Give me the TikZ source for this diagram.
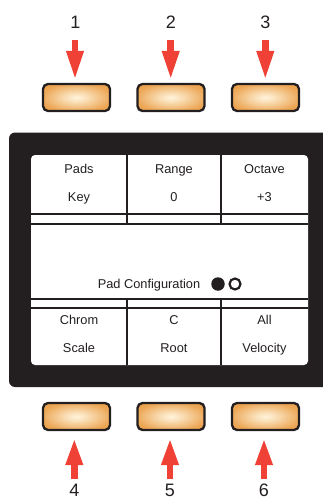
\documentclass[tikz,border=0pt]{standalone}
\usepackage{fontspec}
\setmainfont{Liberation Sans}
\usetikzlibrary{arrows.meta}
\definecolor{ink}{HTML}{231F20}
\definecolor{btnout}{HTML}{E58A24}
\definecolor{btnin}{HTML}{FFF4DC}
\definecolor{arrowred}{HTML}{EF4136}
\pgfdeclareradialshading{btnshade}{\pgfpoint{0bp}{0bp}}{color(0bp)=(btnin); color(8bp)=(btnin!80!btnout); color(26bp)=(btnin!28!btnout); color(46bp)=(btnout); color(75bp)=(btnout!90!black)}
\begin{document}
\begin{tikzpicture}[x=1pt,y=-1pt,
  button/.style={draw=ink, line width=2.3pt, rounded corners=5pt, minimum width=67pt, minimum height=27pt, inner sep=0pt, shading=btnshade, shade},
  fatup/.style={draw=arrowred, line width=6.5pt, -{Triangle[length=27pt,width=16pt]}},
  fatdown/.style={draw=arrowred, line width=6.5pt, -{Triangle[length=29pt,width=16pt]}},
  digit/.style={anchor=base, inner sep=0pt, font=\fontsize{18}{20}\selectfont, text=ink},
  cell/.style={anchor=base, inner sep=0pt, font=\fontsize{12.8}{14}\selectfont, text=ink},
  sep/.style={draw=ink, line width=2.5pt}
]
\useasboundingbox (0,0) rectangle (323,499);
\begin{scope}
\clip (0,0) rectangle (323,499);
% panel
\fill[ink, rounded corners=6pt] (9,132.5) rectangle (345,387);
% display
\fill[white, rounded corners=4pt] (31,155) rectangle (308,365);
\draw[sep] (31,214) -- (308,214);
\draw[sep] (31,224) -- (308,224);
\draw[sep] (31,299) -- (308,299);
\draw[sep] (31,308) -- (308,308);
\draw[sep] (127,155) -- (127,224);
\draw[sep] (221,155) -- (221,224);
\draw[sep] (127,299) -- (127,365);
\draw[sep] (221,299) -- (221,365);
% cell texts
\node[cell] (pads) at (79,173.3) {Pads};
\node[cell] (key) at (79,201.7) {Key};
\node[cell] (range) at (174,173.3) {Range};
\node[cell] (zero) at (174,201.7) {0};
\node[cell] (octave) at (264.5,173.3) {Octave};
\node[cell] (plus) at (264.5,201.7) {+3};
\node[cell] (chrom) at (79,324.7) {Chrom};
\node[cell] (scale) at (79,352) {Scale};
\node[cell] (cc) at (174,324.7) {C};
\node[cell] (root) at (174,352) {Root};
\node[cell] (all) at (264.5,324.7) {All};
\node[cell] (vel) at (264.5,352) {Velocity};
\node[cell] (padconf) at (149,288.7) {Pad Configuration};
\node[circle, fill=ink, inner sep=0pt, minimum size=13.5pt] (dot1) at (218,284) {};
\node[circle, draw=ink, line width=2.2pt, fill=white, inner sep=0pt, minimum size=11pt] (dot2) at (235,284) {};
% buttons
\node[button] (b1) at (76.5,97.5) {};
\node[button] (b2) at (171,97.5) {};
\node[button] (b3) at (265.5,97.5) {};
\node[button] (b4) at (76.5,416.5) {};
\node[button] (b5) at (171,416.5) {};
\node[button] (b6) at (265.5,416.5) {};
% labels
\node[digit] (l1) at (75.5,28) {1};
\node[digit] (l2) at (171,28) {2};
\node[digit] (l3) at (265.5,28) {3};
\node[digit] (l4) at (74.5,496) {4};
\node[digit] (l5) at (170,496) {5};
\node[digit] (l6) at (264,496) {6};
% arrows
\coordinate (s1) at (75,40);
\coordinate (s2) at (170.7,40);
\coordinate (s3) at (265.3,40);
\coordinate (s4) at (74.3,479);
\coordinate (s5) at (170,479);
\coordinate (s6) at (264,479);
\draw[fatdown, shorten >=3pt] (s1) -- (s1 |- b1.north);
\draw[fatdown, shorten >=3pt] (s2) -- (s2 |- b2.north);
\draw[fatdown, shorten >=3pt] (s3) -- (s3 |- b3.north);
\draw[fatup, shorten >=7pt] (s4) -- (s4 |- b4.south);
\draw[fatup, shorten >=7pt] (s5) -- (s5 |- b5.south);
\draw[fatup, shorten >=7pt] (s6) -- (s6 |- b6.south);
\end{scope}
\end{tikzpicture}
\end{document}
